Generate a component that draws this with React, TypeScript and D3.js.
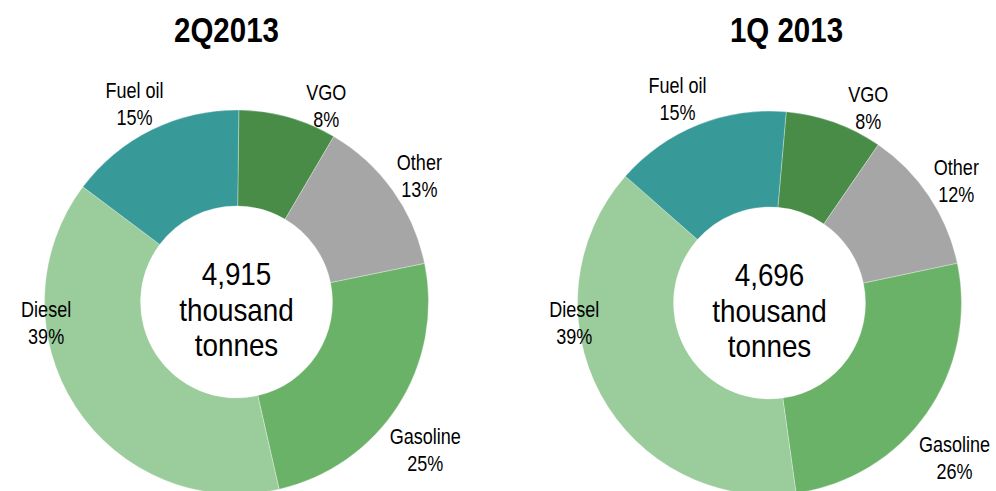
import React from "react";
import * as d3 from "d3";

// ---- data ----
const categories = ["VGO", "Other", "Gasoline", "Diesel", "Fuel oil"];
const titles = ["2Q2013", "1Q 2013"];
const values2Q2013 = [406, 655, 1212, 1907, 735]; // thousand tonnes
const values1Q2013 = [385, 568, 1226, 1817, 700]; // thousand tonnes
const unitLines = ["thousand", "tonnes"];

// ---- styles / layout ----
const W = 996;
const H = 491;
const colors: Record<string, string> = {
  VGO: "#488c48",
  Other: "#a6a6a6",
  Gasoline: "#69b267",
  Diesel: "#9bcc9b",
  "Fuel oil": "#389a98",
};
const FONT = "'Liberation Sans', Arial, sans-serif";
const NARROW = 0.82; // horizontal squeeze to mimic Arial Narrow

type ChartLayout = {
  cx: number;
  cy: number;
  titleX: number;
  startDeg: number;
  nudges: [number, number][];
};
const layouts: ChartLayout[] = [
  {
    cx: 236.5,
    cy: 302,
    titleX: 226.5,
    startDeg: 0.7,
    nudges: [
      [32, 11],
      [8, -1],
      [8, 32],
      [-10, -96],
      [-7, -5],
    ],
  },
  {
    cx: 769.5,
    cy: 303,
    titleX: 786.5,
    startDeg: 5,
    nudges: [
      [26, 7],
      [8, -3],
      [9, 32],
      [-6, -82],
      [-12, -4],
    ],
  },
];
const outerR = 192;
const innerR = 96;
const labelR = 215;

function NText({
  x,
  y,
  lines,
  size,
  bold,
  offsets,
  squeeze,
}: {
  x: number;
  y: number;
  lines: string[];
  size: number;
  bold?: boolean;
  offsets?: number[];
  squeeze?: number;
}) {
  return (
    <g transform={`translate(${x},${y}) scale(${squeeze || NARROW},1)`}>
      <text textAnchor="middle" fontFamily={FONT} fontSize={size} fontWeight={bold ? "bold" : "normal"} fill="#000">
        {lines.map((l, i) => (
          <tspan key={i} x={0} y={offsets ? offsets[i] : 0}>
            {l}
          </tspan>
        ))}
      </text>
    </g>
  );
}

function Donut({ values, title, layout }: { values: number[]; title: string; layout: ChartLayout }) {
  const total = d3.sum(values);
  const start = (layout.startDeg * Math.PI) / 180;
  const pie = d3
    .pie<number>()
    .sort(null)
    .startAngle(start)
    .endAngle(start + 2 * Math.PI)
    .value((d) => d);
  const arcs = pie(values);
  const arc = d3.arc<d3.PieArcDatum<number>>().innerRadius(innerR).outerRadius(outerR);
  const labelArc = d3.arc<d3.PieArcDatum<number>>().innerRadius(labelR).outerRadius(labelR);
  const pct = d3.format(".0%");
  const fmt = d3.format(",");
  return (
    <g>
      <NText x={layout.titleX} y={42} lines={[title]} size={36} bold />
      <g transform={`translate(${layout.cx},${layout.cy})`}>
        {arcs.map((a, i) => (
          <path
            key={categories[i]}
            d={arc(a) || ""}
            fill={colors[categories[i]]}
            stroke="#ffffff"
            strokeWidth={0.5}
            strokeOpacity={0.6}
          />
        ))}
        {arcs.map((a, i) => {
          const [x, y] = labelArc.centroid(a);
          const [nx, ny] = layout.nudges[i];
          return (
            <NText
              key={"l" + i}
              x={x + nx}
              y={y + ny}
              lines={[categories[i], pct(values[i] / total)]}
              size={22}
              offsets={[-6, 21]}
            />
          );
        })}
        <NText
          x={0}
          y={0}
          lines={[fmt(total), unitLines[0], unitLines[1]]}
          size={32}
          squeeze={0.87}
          offsets={[-17, 19, 54]}
        />
      </g>
    </g>
  );
}

export default function App() {
  return (
    <svg
      width={W}
      height={H}
      style={{ position: "absolute", left: 0, top: 0, background: "#fff", display: "block" }}
    >
      <rect width={W} height={H} fill="#fff" />
      <Donut values={values2Q2013} title={titles[0]} layout={layouts[0]} />
      <Donut values={values1Q2013} title={titles[1]} layout={layouts[1]} />
    </svg>
  );
}
